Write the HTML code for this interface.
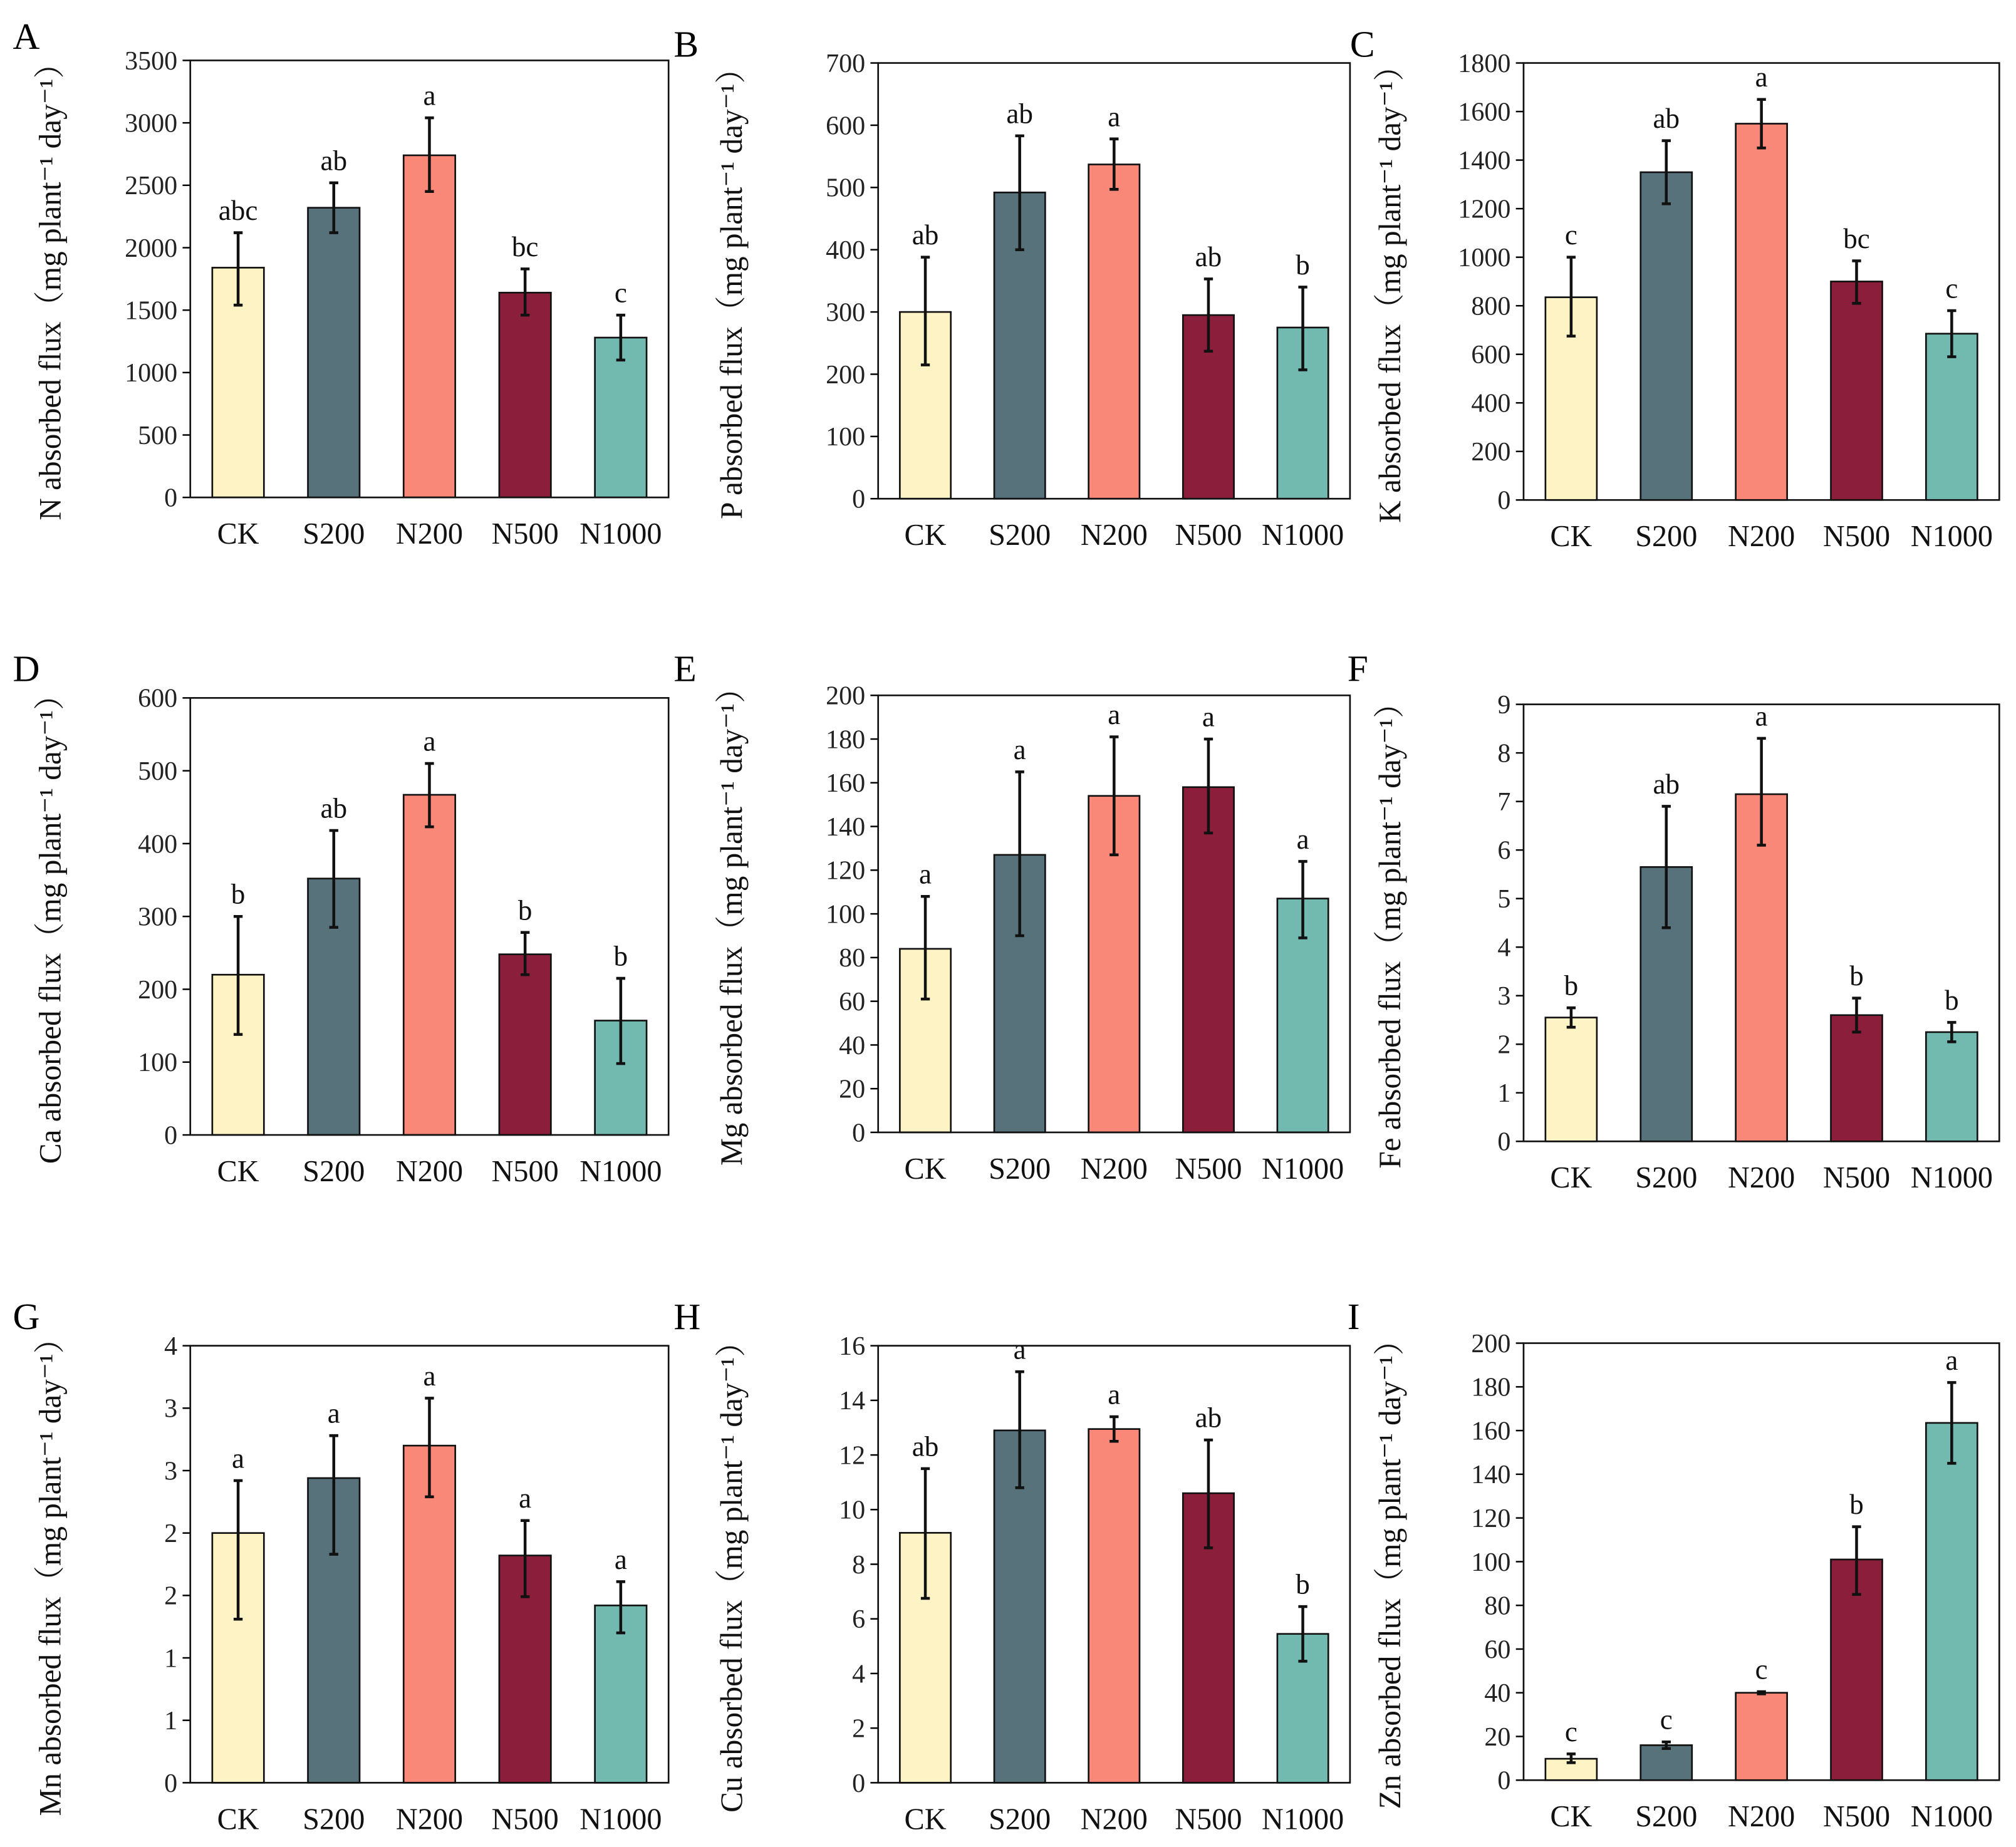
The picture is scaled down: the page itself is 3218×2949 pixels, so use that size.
<!DOCTYPE html>
<html><head><meta charset="utf-8"><style>
html,body{margin:0;padding:0;background:#fff;}
svg{display:block;}
svg text{font-family:"Liberation Serif","Noto Serif CJK SC",serif;}
</style></head><body>
<svg id="fig" width="3218" height="2949" viewBox="0 0 1568 1437" preserveAspectRatio="none" font-family="Liberation Serif, Noto Serif CJK SC, serif" xmlns="http://www.w3.org/2000/svg"></svg>
<script>
const categories = ["CK","S200","N200","N500","N1000"];
const colors = ["#fdf3c4","#57727b","#fa8878","#8b1f3b","#72bab0"];

const nValues=[1840,2320,2740,1640,1280]; const nLo=[1540,2120,2450,1460,1100]; const nHi=[2120,2520,3040,1830,1460]; const nLetters=["abc","ab","a","bc","c"]; const nTicks=["0","500","1000","1500","2000","2500","3000","3500"];
const pValues=[300,492,537,295,275]; const pLo=[215,400,497,237,207]; const pHi=[388,583,578,353,340]; const pLetters=["ab","ab","a","ab","b"]; const pTicks=["0","100","200","300","400","500","600","700"];
const kValues=[835,1350,1550,900,685]; const kLo=[675,1220,1450,810,590]; const kHi=[1000,1480,1650,985,780]; const kLetters=["c","ab","a","bc","c"]; const kTicks=["0","200","400","600","800","1000","1200","1400","1600","1800"];
const caValues=[220,352,467,248,157]; const caLo=[138,285,423,220,98]; const caHi=[300,418,510,278,215]; const caLetters=["b","ab","a","b","b"]; const caTicks=["0","100","200","300","400","500","600"];
const mgValues=[84,127,154,158,107]; const mgLo=[61,90,127,137,89]; const mgHi=[108,165,181,180,124]; const mgLetters=["a","a","a","a","a"]; const mgTicks=["0","20","40","60","80","100","120","140","160","180","200"];
const feValues=[2.55,5.65,7.15,2.6,2.25]; const feLo=[2.35,4.4,6.1,2.25,2.05]; const feHi=[2.75,6.9,8.3,2.95,2.45]; const feLetters=["b","ab","a","b","b"]; const feTicks=["0","1","2","3","4","5","6","7","8","9"];
const mnValues=[2.0,2.44,2.70,1.82,1.42]; const mnLo=[1.31,1.83,2.29,1.49,1.20]; const mnHi=[2.42,2.78,3.08,2.10,1.61]; const mnLetters=["a","a","a","a","a"]; const mnTicks=["0","1","1","2","2","3","3","4"];
const cuValues=[9.15,12.9,12.95,10.6,5.45]; const cuLo=[6.75,10.8,12.5,8.6,4.45]; const cuHi=[11.5,15.05,13.4,12.55,6.45]; const cuLetters=["ab","a","a","ab","b"]; const cuTicks=["0","2","4","6","8","10","12","14","16"];
const znValues=[9.8,16,40,101,163.5]; const znLo=[8,14.5,39.5,85,145]; const znHi=[12,17.5,40.5,116,182]; const znLetters=["c","c","c","b","a"]; const znTicks=["0","20","40","60","80","100","120","140","160","180","200"];

const NS="http://www.w3.org/2000/svg";
const svg=document.getElementById('fig');
function mk(tag,attrs,parent,text){const e=document.createElementNS(NS,tag);for(const k in attrs)e.setAttribute(k,attrs[k]);if(text!==undefined)e.textContent=text;(parent||svg).appendChild(e);return e;}

const panels=[
 {letter:"A",el:"N",x0:148,x1:520,y0:47,y1:387,max:3500,step:500,vals:nValues,lo:nLo,hi:nHi,let:nLetters,ticks:nTicks,lx:10,ly:38,tx:47},
 {letter:"B",el:"P",x0:683,x1:1050,y0:49,y1:388,max:700,step:100,vals:pValues,lo:pLo,hi:pHi,let:pLetters,ticks:pTicks,lx:524,ly:44,tx:577},
 {letter:"C",el:"K",x0:1185,x1:1555,y0:49,y1:389,max:1800,step:200,vals:kValues,lo:kLo,hi:kHi,let:kLetters,ticks:kTicks,lx:1050,ly:44,tx:1089},
 {letter:"D",el:"Ca",x0:148,x1:520,y0:543,y1:883,max:600,step:100,vals:caValues,lo:caLo,hi:caHi,let:caLetters,ticks:caTicks,lx:10,ly:530,tx:47},
 {letter:"E",el:"Mg",x0:683,x1:1050,y0:541,y1:881,max:200,step:20,vals:mgValues,lo:mgLo,hi:mgHi,let:mgLetters,ticks:mgTicks,lx:524,ly:530,tx:577},
 {letter:"F",el:"Fe",x0:1185,x1:1555,y0:548,y1:888,max:9,step:1,vals:feValues,lo:feLo,hi:feHi,let:feLetters,ticks:feTicks,lx:1048,ly:530,tx:1089},
 {letter:"G",el:"Mn",x0:148,x1:520,y0:1047,y1:1387,max:3.5,step:0.5,vals:mnValues,lo:mnLo,hi:mnHi,let:mnLetters,ticks:mnTicks,lx:10,ly:1034,tx:47},
 {letter:"H",el:"Cu",x0:683,x1:1050,y0:1047,y1:1387,max:16,step:2,vals:cuValues,lo:cuLo,hi:cuHi,let:cuLetters,ticks:cuTicks,lx:524,ly:1034,tx:577},
 {letter:"I",el:"Zn",x0:1185,x1:1555,y0:1045,y1:1385,max:200,step:20,vals:znValues,lo:znLo,hi:znHi,let:znLetters,ticks:znTicks,lx:1048,ly:1034,tx:1089}
];

panels.forEach(p=>{
  const g=mk('g',{});
  
  
  const yS=v=>p.y1-(v/p.max)*(p.y1-p.y0);
  const band=(p.x1-p.x0)/categories.length;
  const xC=i=>p.x0+band*(i+0.5);
  const bw=band*0.54;
  const lt=mk('text',{x:p.lx,y:p.ly,'font-size':29},g,p.letter);
  
  
  p.ticks.forEach((t,k)=>{
    const y=yS(k*p.step);
    mk('line',{x1:p.x0-6,x2:p.x0,y1:y,y2:y,stroke:'#000','stroke-width':1.2},g);
    const tl=mk('text',{x:p.x0-10,y:y+7,'font-size':20.5,'text-anchor':'end',fill:'#222'},g,t);
    
    
  });
  categories.forEach((c,i)=>{
    const v=p.vals[i];
    const r=mk('rect',{x:xC(i)-bw/2,y:yS(v),width:bw,height:yS(0)-yS(v),fill:colors[i],stroke:'#111','stroke-width':1.3},g);
    
    
    const ylo=yS(p.lo[i]),yhi=yS(p.hi[i]);
    const eb=mk('path',{d:`M${xC(i)},${ylo}V${yhi}M${xC(i)-3.5},${ylo}h7M${xC(i)-3.5},${yhi}h7`,stroke:'#111','stroke-width':2.2,fill:'none'},g);
    
    
    const sl=mk('text',{x:xC(i),y:yhi-10,'font-size':22,'text-anchor':'middle',fill:'#111'},g,p.let[i]);
    
    
    const cl=mk('text',{x:xC(i),y:p.y1+36,'font-size':23.5,'text-anchor':'middle',fill:'#111'},g,c);
    
    
  });
  const fr=mk('rect',{x:p.x0,y:p.y0,width:p.x1-p.x0,height:p.y1-p.y0,fill:'none',stroke:'#111','stroke-width':1.3},g);
  
  
  const cy=(p.y0+p.y1)/2+4;
  const tt=mk('text',{x:p.tx,y:cy,'font-size':24,'text-anchor':'middle',fill:'#111',transform:`rotate(-90 ${p.tx} ${cy})`},g);
  
  
  tt.textContent=p.el+' absorbed flux（mg plant⁻¹ day⁻¹）';
});
</script>
</body></html>
